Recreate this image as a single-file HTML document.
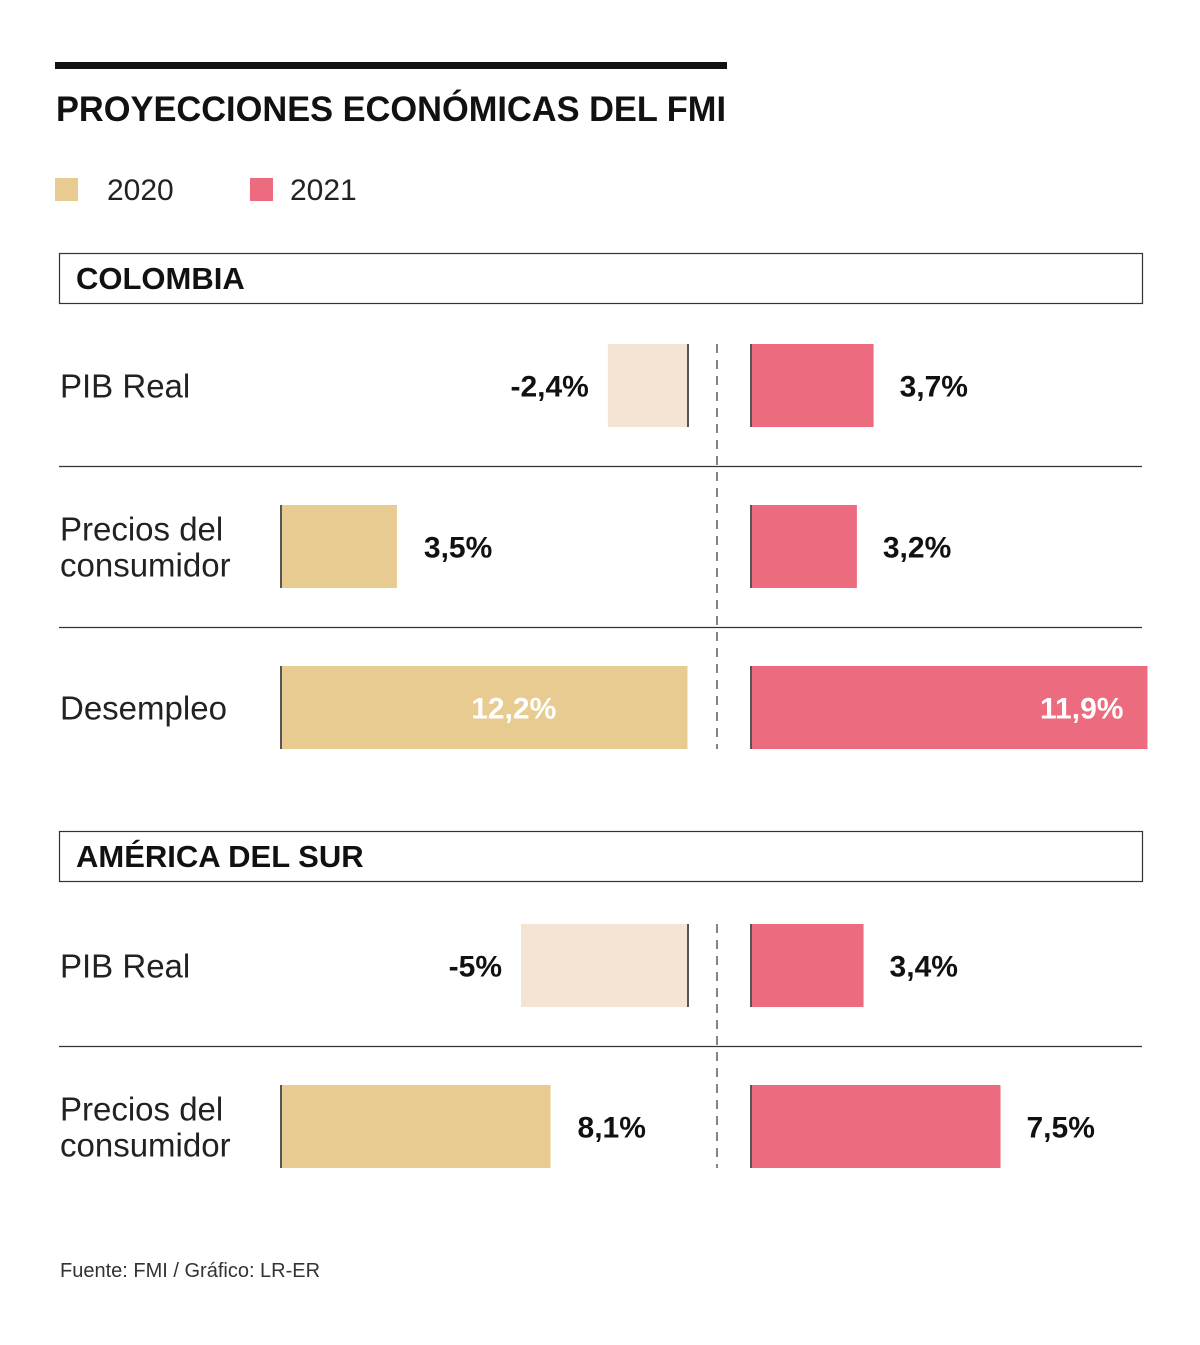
<!DOCTYPE html>
<html><head><meta charset="utf-8"><style>
html,body{margin:0;padding:0;background:#fff;}
svg{display:block;font-family:"Liberation Sans",sans-serif;}
</style></head><body>
<svg id="chart" width="1200" height="1345" viewBox="0 0 1200 1345" xmlns="http://www.w3.org/2000/svg">
<rect x="55" y="62" width="672" height="7" fill="#111"/>
<text x="56" y="121" font-size="35" font-weight="bold" fill="#111" textLength="670" lengthAdjust="spacingAndGlyphs">PROYECCIONES ECONÓMICAS DEL FMI</text>
<g>
<rect x="55" y="178" width="23" height="23" fill="#e8cb90"/>
<text x="107" y="200" font-size="30" fill="#222">2020</text>
<rect x="250" y="178" width="23" height="23" fill="#ec6b7e"/>
<text x="290" y="200" font-size="30" fill="#222">2021</text>
</g>
<text x="60" y="1277" font-size="20" fill="#333">Fuente: FMI / Gráfico: LR-ER</text>
</svg>
<script>
const sections = ["COLOMBIA", "AMÉRICA DEL SUR"];
const categories = [["PIB Real","Precios del|consumidor","Desempleo"],["PIB Real","Precios del|consumidor"]];
const values2020 = [[-2.4, 3.5, 12.2],[-5, 8.1]];
const values2021 = [[3.7, 3.2, 11.9],[3.4, 7.5]];
const labels2020 = [["-2,4%","3,5%","12,2%"],["-5%","8,1%"]];
const labels2021 = [["3,7%","3,2%","11,9%"],["3,4%","7,5%"]];

const svg = document.getElementById('chart');
const NS = 'http://www.w3.org/2000/svg';
const unit = 33.4;
const zero2020 = 280, neg2020 = 688, zero2021 = 750;
const sectionTops = [253, 831];
const rowOffsets = [91, 93];
function mk(tag, attrs){const e=document.createElementNS(NS,tag);for(const k in attrs)e.setAttribute(k,attrs[k]);svg.appendChild(e);return e;}
function sx(v){return Math.abs(v)*unit;}

sections.forEach((name, s) => {
  const top = sectionTops[s];
  const box = mk('rect',{x:59.5,y:top+0.5,width:1083,height:50,fill:'none',stroke:'#333','stroke-width':1.2});
  
  
  const ht = mk('text',{x:76,y:top+36,'font-size':31,'font-weight':'bold',fill:'#111'});
  ht.textContent = name;
  
  
  const n = categories[s].length;
  const rowTop = top + rowOffsets[s];
  const dl = mk('line',{x1:717,x2:717,y1:rowTop,y2:rowTop+161*(n-1)+83,stroke:'#333','stroke-width':1.2,'stroke-dasharray':'9,7'});
  
  
  categories[s].forEach((cat, i) => {
    const y = rowTop + i*161;
    const cy = y + 41.5;
    if (i > 0) {
      const sep = mk('line',{x1:59,x2:1142,y1:y-38.5,y2:y-38.5,stroke:'#333','stroke-width':1.2});
      
      
    }
    const lines = cat.split('|');
    const lt = mk('text',{x:60,'font-size':33,fill:'#222'});
    
    
    lines.forEach((ln, k) => {
      const ts = document.createElementNS(NS,'tspan');
      ts.setAttribute('x',60);
      ts.setAttribute('y', lines.length===1 ? cy+12 : cy-6 + k*36);
      ts.textContent = ln; lt.appendChild(ts);
    });
    const v = values2020[s][i];
    const w = sx(v);
    let x0, x1, fill;
    if (v < 0) { x1 = neg2020; x0 = neg2020 - w; fill = '#f3e4d3'; }
    else { x0 = zero2020; x1 = zero2020 + w; fill = '#e8cb90'; }
    const b = mk('rect',{x:x0,y:y,width:w,height:83,fill:fill});
    
    
    const edge = v < 0 ? x1-1 : x0;
    const e1 = mk('rect',{x:edge,y:y,width:2,height:83,fill:'#555'});
    
    
    let t;
    if (v < 0) t = mk('text',{x:x0-19,y:cy+11,'text-anchor':'end','font-size':30,'font-weight':'bold',fill:'#111'});
    else if (w > 300) t = mk('text',{x:(x0+x1)/2+30,y:cy+11,'text-anchor':'middle','font-size':30,'font-weight':'bold',fill:'#fff'});
    else t = mk('text',{x:x1+27,y:cy+11,'font-size':30,'font-weight':'bold',fill:'#111'});
    t.textContent = labels2020[s][i];
    
    
    const v2 = values2021[s][i];
    const w2 = sx(v2);
    const b2 = mk('rect',{x:zero2021,y:y,width:w2,height:83,fill:'#ec6b7e'});
    
    
    const e2 = mk('rect',{x:zero2021,y:y,width:2,height:83,fill:'#555'});
    
    
    let t2;
    if (w2 > 300) t2 = mk('text',{x:zero2021+w2-24,y:cy+11,'text-anchor':'end','font-size':30,'font-weight':'bold',fill:'#fff'});
    else t2 = mk('text',{x:zero2021+w2+26,y:cy+11,'font-size':30,'font-weight':'bold',fill:'#111'});
    t2.textContent = labels2021[s][i];
    
    
  });
});
</script>
</body></html>
